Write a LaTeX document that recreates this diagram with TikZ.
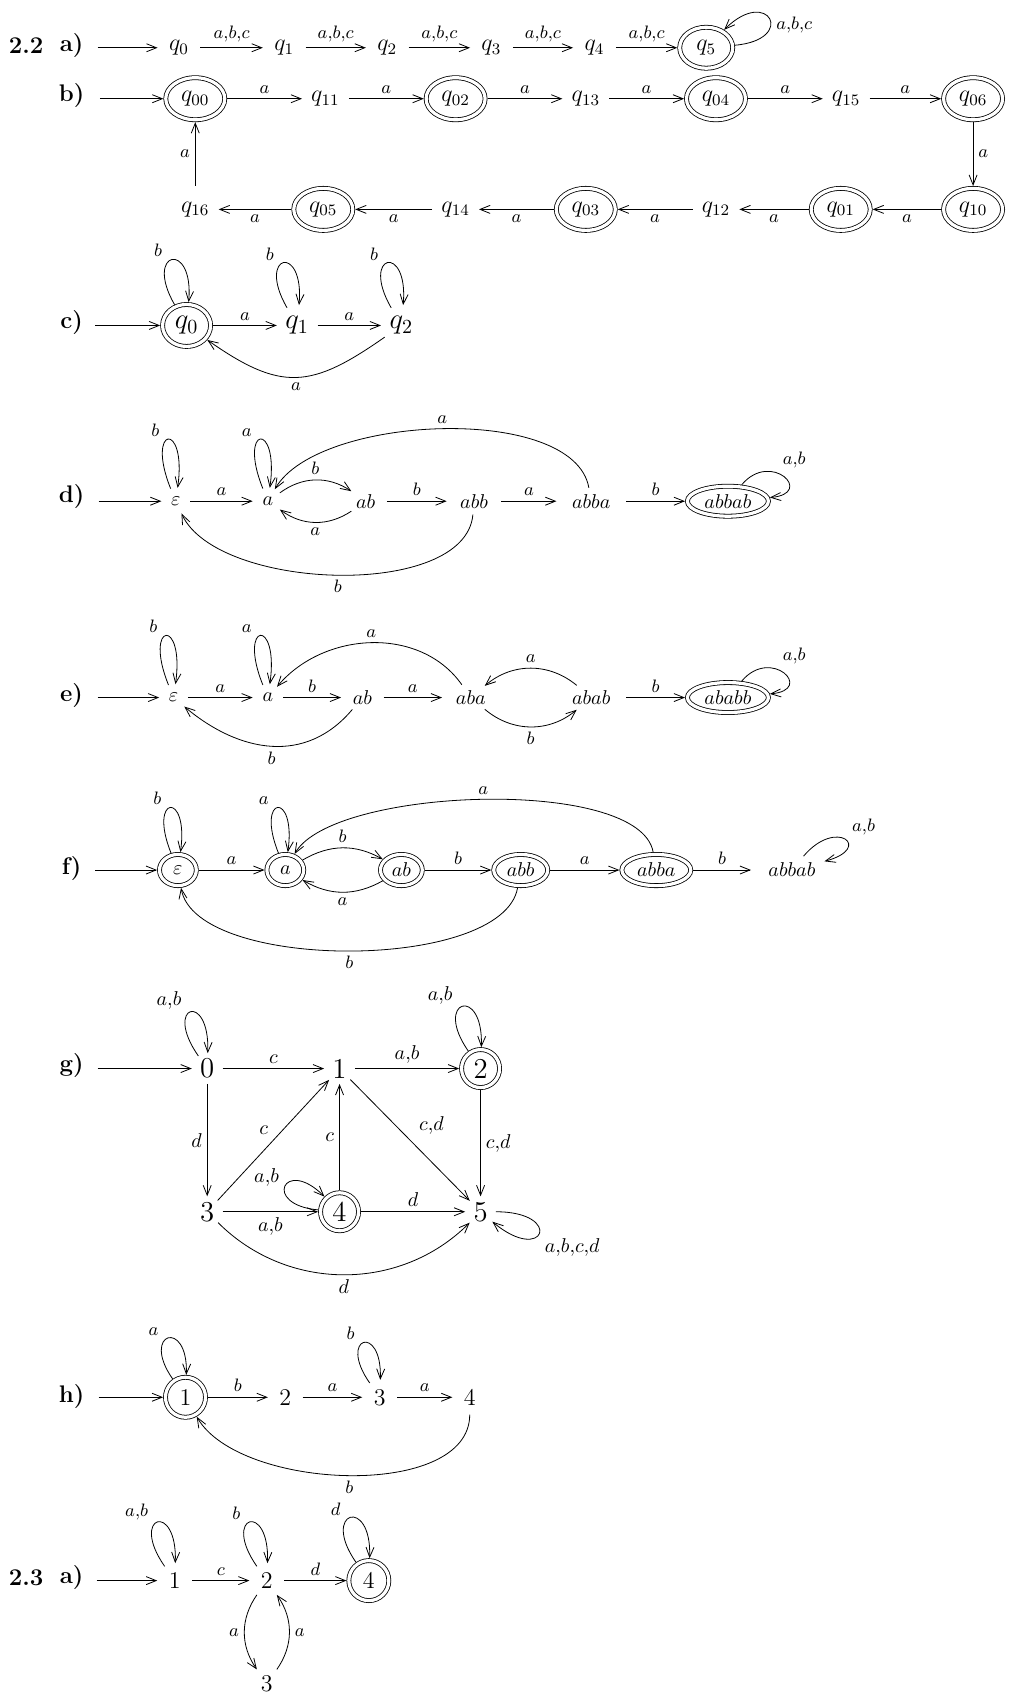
\documentclass[tikz,border=0pt]{standalone}
\usepackage{amsmath}
\usepackage{amssymb}
\usetikzlibrary{shapes,arrows.meta}

\tikzset{
	>={Straight Barb[length=5pt,width=4pt]},
	hd/.style={font=\large\bfseries},
	lab/.style={font=\small,inner sep=2.5pt},
	acc/.style={draw,double,double distance=1.6pt,outer sep=1.2pt},
}

\begin{document}
\begin{tikzpicture}[x=0.5423pt,y=0.5423pt]

	\useasboundingbox (0,0) rectangle (934,-1568);

	% 2.2 a)
	\def\rowy{-44}
	\begin{scope}[st/.style={circle,minimum size=21pt,inner sep=0pt,font=\large},
		ac/.style={ellipse,acc,minimum width=26.5pt,minimum height=20.5pt,inner sep=0pt,font=\large}]
	\node[hd] (h22) at (24,-42) {2.2};
	\node[hd] (ha) at (66,-42) {a)};
	\coordinate (ain) at (90,\rowy);
	\node[st] (a0) at (165,\rowy) {$q_0$};
	\node[st] (a1) at (262,\rowy) {$q_1$};
	\node[st] (a2) at (357,\rowy) {$q_2$};
	\node[st] (a3) at (453,\rowy) {$q_3$};
	\node[st] (a4) at (548,\rowy) {$q_4$};
	\node[ac] (a5) at (651,\rowy) {$q_5$};
	\path[->] (ain) edge (a0);
	\foreach \i/\j in {0/1,1/2,2/3,3/4,4/5}
		\path[->] (a\i) edge node[lab,above] {$a{,}b{,}c$} (a\j);
	\path[->] (a5) edge[out=5,in=45,min distance=11mm] node[lab,right,pos=0.4] {$a{,}b{,}c$} (a5);
	\end{scope}

	% b)
	\def\rowy{-91}
	\def\rowz{-193}
	\begin{scope}[st/.style={circle,minimum size=23pt,inner sep=0pt,font=\large},
		ac/.style={ellipse,acc,minimum width=29.5pt,minimum height=21pt,inner sep=0pt,font=\large}]
	\node[hd] (hb) at (66,-88) {b)};
	\coordinate (bin) at (92,\rowy);
	\node[ac] (b00) at (180,\rowy) {$q_{00}$};
	\node[st] (b11) at (300,\rowy) {$q_{11}$};
	\node[ac] (b02) at (420,\rowy) {$q_{02}$};
	\node[st] (b13) at (540,\rowy) {$q_{13}$};
	\node[ac] (b04) at (660,\rowy) {$q_{04}$};
	\node[st] (b15) at (780,\rowy) {$q_{15}$};
	\node[ac] (b06) at (897,\rowy) {$q_{06}$};
	\node[ac] (b10) at (897,\rowz) {$q_{10}$};
	\node[ac] (b01) at (775,\rowz) {$q_{01}$};
	\node[st] (b12) at (660,\rowz) {$q_{12}$};
	\node[ac] (b03) at (540,\rowz) {$q_{03}$};
	\node[st] (b14) at (420,\rowz) {$q_{14}$};
	\node[ac] (b05) at (298,\rowz) {$q_{05}$};
	\node[st] (b16) at (180,\rowz) {$q_{16}$};
	\path[->] (bin) edge (b00);
	\foreach \i/\j in {00/11,11/02,02/13,13/04,04/15,15/06}
		\path[->] (b\i) edge node[lab,above] {$a$} (b\j);
	\foreach \i/\j in {10/01,01/12,12/03,03/14,14/05,05/16}
		\path[->] (b\i) edge node[lab,below] {$a$} (b\j);
	\path[->] (b06) edge node[lab,right] {$a$} (b10);
	\path[->] (b16) edge node[lab,left] {$a$} (b00);
	\end{scope}

	% c)
	\def\rowy{-300}
	\begin{scope}[st/.style={circle,minimum size=20pt,inner sep=0pt,font=\Large},
		ac/.style={ellipse,acc,minimum width=24pt,minimum height=21pt,inner sep=0pt,font=\Large},
		selfl/.style={out=120,in=85,min distance=11mm}]
	\node[hd] (hc) at (66,-297) {c)};
	\coordinate (cin) at (88,\rowy);
	\node[ac] (c0) at (172,\rowy) {$q_0$};
	\node[st] (c1) at (274,\rowy) {$q_1$};
	\node[st] (c2) at (370,\rowy) {$q_2$};
	\path[->] (cin) edge (c0);
	\path[->] (c0) edge node[lab,above] {$a$} (c1);
	\path[->] (c1) edge node[lab,above] {$a$} (c2);
	\path[->] (c2) edge[out=215,in=-35,looseness=1.3] node[lab,below] {$a$} (c0);
	\foreach \n in {c0,c1,c2}
		\path[->] (\n) edge[selfl] node[lab,above left,pos=0.4] {$b$} (\n);
	\end{scope}

	% d)
	\def\rowy{-462}
	\begin{scope}[st/.style={ellipse,inner xsep=2.6pt,inner ysep=0pt,minimum height=13pt},
		ac/.style={st,acc,minimum height=15pt},
		selfl/.style={out=112,in=82,min distance=12mm}]
	\node[hd] (hd) at (66,-458) {d)};
	\coordinate (din) at (91,\rowy);
	\node[st] (d0) at (162,\rowy) {$\varepsilon$};
	\node[st] (d1) at (247,\rowy) {$a$};
	\node[st] (d2) at (337,\rowy) {$ab$};
	\node[st] (d3) at (437,\rowy) {$abb$};
	\node[st] (d4) at (545,\rowy) {$abba$};
	\node[ac] (d5) at (671,\rowy) {$abbab$};
	\path[->] (din) edge (d0);
	\path[->] (d0) edge node[lab,above] {$a$} (d1);
	\path[->] (d1) edge[bend left=35] node[lab,above] {$b$} (d2);
	\path[->] (d2) edge[bend left=35] node[lab,below] {$a$} (d1);
	\path[->] (d2) edge node[lab,above] {$b$} (d3);
	\path[->] (d3) edge node[lab,above] {$a$} (d4);
	\path[->] (d4) edge node[lab,above] {$b$} (d5);
	\path[->] (d4) edge[out=100,in=60,looseness=0.7] node[lab,above] {$a$} (d1);
	\path[->] (d3) edge[out=-95,in=-65,looseness=0.75] node[lab,below] {$b$} (d0);
	\path[->] (d0) edge[selfl] node[lab,above left,pos=0.4] {$b$} (d0);
	\path[->] (d1) edge[selfl] node[lab,above left,pos=0.4] {$a$} (d1);
	\path[->] (d5) edge[out=50,in=5,min distance=8mm] node[lab,above right,pos=0.4] {$a{,}b$} (d5);
	\end{scope}

	% e)
	\def\rowy{-643}
	\begin{scope}[st/.style={ellipse,inner xsep=2.6pt,inner ysep=0pt,minimum height=13pt},
		ac/.style={st,acc,minimum height=15pt},
		selfl/.style={out=112,in=82,min distance=12mm}]
	\node[hd] (he) at (66,-641) {e)};
	\coordinate (ein) at (90,\rowy);
	\node[st] (e0) at (160,\rowy) {$\varepsilon$};
	\node[st] (e1) at (247,\rowy) {$a$};
	\node[st] (e2) at (334,\rowy) {$ab$};
	\node[st] (e3) at (434,\rowy) {$aba$};
	\node[st] (e4) at (545,\rowy) {$abab$};
	\node[ac] (e5) at (671,\rowy) {$ababb$};
	\path[->] (ein) edge (e0);
	\path[->] (e0) edge node[lab,above] {$a$} (e1);
	\path[->] (e1) edge node[lab,above] {$b$} (e2);
	\path[->] (e2) edge node[lab,above] {$a$} (e3);
	\path[->] (e4) edge node[lab,above] {$b$} (e5);
	\path[->] (e3) edge[out=125,in=50] node[lab,above] {$a$} (e1);
	\path[->] (e4) edge[bend right=40] node[lab,above] {$a$} (e3);
	\path[->] (e3) edge[bend right=40] node[lab,below] {$b$} (e4);
	\path[->] (e2) edge[out=-130,in=-40,looseness=1.1] node[lab,below] {$b$} (e0);
	\path[->] (e0) edge[selfl] node[lab,above left,pos=0.4] {$b$} (e0);
	\path[->] (e1) edge[selfl] node[lab,above left,pos=0.4] {$a$} (e1);
	\path[->] (e5) edge[out=50,in=5,min distance=8mm] node[lab,above right,pos=0.4] {$a{,}b$} (e5);
	\end{scope}

	% f)
	\def\rowy{-802}
	\begin{scope}[st/.style={ellipse,inner xsep=2.6pt,inner ysep=0pt,minimum height=14pt},
		ac/.style={st,acc,minimum height=15.6pt,minimum width=18.4pt},
		selfl/.style={out=112,in=82,min distance=11mm}]
	\node[hd] (hf) at (66,-801) {f)};
	\coordinate (fin) at (88,\rowy);
	\node[ac] (f0) at (164,\rowy) {$\varepsilon$};
	\node[ac] (f1) at (263,\rowy) {$a$};
	\node[ac] (f2) at (370,\rowy) {$ab$};
	\node[ac] (f3) at (480,\rowy) {$abb$};
	\node[ac] (f4) at (605,\rowy) {$abba$};
	\node[st] (f5) at (730,\rowy) {$abbab$};
	\path[->] (fin) edge (f0);
	\path[->] (f0) edge node[lab,above] {$a$} (f1);
	\path[->] (f1) edge[bend left=30] node[lab,above] {$b$} (f2);
	\path[->] (f2) edge[bend left=30] node[lab,below] {$a$} (f1);
	\path[->] (f2) edge node[lab,above] {$b$} (f3);
	\path[->] (f3) edge node[lab,above] {$a$} (f4);
	\path[->] (f4) edge node[lab,above] {$b$} (f5);
	\path[->] (f4) edge[out=100,in=60,looseness=0.55] node[lab,above] {$a$} (f1);
	\path[->] (f3) edge[out=-100,in=-80,looseness=0.65] node[lab,below] {$b$} (f0);
	\path[->] (f0) edge[selfl] node[lab,above left,pos=0.4] {$b$} (f0);
	\path[->] (f1) edge[selfl] node[lab,above left,pos=0.4] {$a$} (f1);
	\path[->] (f5) edge[out=50,in=15,min distance=9mm] node[lab,above right,pos=0.55] {$a{,}b$} (f5);
	\end{scope}

	% g)
	\begin{scope}[st/.style={circle,minimum size=15pt,inner sep=0pt,font=\Large},
		ac/.style={st,acc,minimum size=19pt},
		lab/.append style={font=\normalsize},
		selfl/.style={out=125,in=88,min distance=11mm}]
	\node[hd] (hg) at (66,-982) {g)};
	\coordinate (gin) at (90,-985);
	\node[st] (g0) at (191,-985) {0};
	\node[st] (g1) at (313,-985) {1};
	\node[ac] (g2) at (443,-985) {2};
	\node[st] (g3) at (191,-1117) {3};
	\node[ac] (g4) at (313,-1117) {4};
	\node[st] (g5) at (443,-1117) {5};
	\path[->] (gin) edge (g0);
	\path[->] (g0) edge node[lab,above] {$c$} (g1);
	\path[->] (g1) edge node[lab,above] {$a{,}b$} (g2);
	\path[->] (g0) edge node[lab,left] {$d$} (g3);
	\path[->] (g3) edge node[lab,above left] {$c$} (g1);
	\path[->] (g4) edge node[lab,left] {$c$} (g1);
	\path[->] (g1) edge node[lab,pos=0.38,right=9pt] {$c{,}d$} (g5);
	\path[->] (g2) edge node[lab,right] {$c{,}d$} (g5);
	\path[->] (g3) edge node[lab,below] {$a{,}b$} (g4);
	\path[->] (g4) edge node[lab,above] {$d$} (g5);
	\path[->] (g3) edge[out=-45,in=-135] node[lab,below] {$d$} (g5);
	\path[->] (g0) edge[selfl] node[lab,above left,pos=0.4] {$a{,}b$} (g0);
	\path[->] (g2) edge[selfl] node[lab,above left,pos=0.4] {$a{,}b$} (g2);
	\path[->] (g4) edge[out=175,in=135,min distance=10mm] node[lab,above left,pos=0.4] {$a{,}b$} (g4);
	\path[->] (g5) edge[out=0,in=-40,min distance=12mm] node[lab,below right,pos=0.5] {$a{,}b{,}c{,}d$} (g5);
	\end{scope}

	% h)
	\def\rowy{-1288}
	\begin{scope}[st/.style={circle,minimum size=17pt,inner sep=0pt,font=\large},
		ac/.style={st,acc,minimum size=20pt},
		selfl/.style={out=125,in=88,min distance=10mm}]
	\node[hd] (hh) at (66,-1287) {h)};
	\coordinate (hin) at (91,\rowy);
	\node[ac] (h1) at (171,\rowy) {1};
	\node[st] (h2) at (263,\rowy) {2};
	\node[st] (h3) at (350,\rowy) {3};
	\node[st] (h4) at (433,\rowy) {4};
	\path[->] (hin) edge (h1);
	\path[->] (h1) edge node[lab,above] {$b$} (h2);
	\path[->] (h2) edge node[lab,above] {$a$} (h3);
	\path[->] (h3) edge node[lab,above] {$a$} (h4);
	\path[->] (h4) edge[out=-90,in=-60,looseness=0.8] node[lab,below] {$b$} (h1);
	\path[->] (h1) edge[selfl] node[lab,above left,pos=0.4] {$a$} (h1);
	\path[->] (h3) edge[selfl] node[lab,above left,pos=0.4] {$b$} (h3);
	\end{scope}

	% 2.3 a)
	\def\rowy{-1457}
	\begin{scope}[st/.style={circle,minimum size=17pt,inner sep=0pt,font=\large},
		ac/.style={st,acc,minimum size=20pt},
		selfl/.style={out=125,in=88,min distance=11mm}]
	\node[hd] (h23) at (24,-1454) {2.3};
	\node[hd] (hpa) at (66,-1454) {a)};
	\coordinate (pin) at (89,\rowy);
	\node[st] (p1) at (161,\rowy) {1};
	\node[st] (p2) at (246,\rowy) {2};
	\node[ac] (p4) at (340,\rowy) {4};
	\node[st] (p3) at (246,-1552) {3};
	\path[->] (pin) edge (p1);
	\path[->] (p1) edge node[lab,above] {$c$} (p2);
	\path[->] (p2) edge node[lab,above] {$d$} (p4);
	\path[->] (p2) edge[bend right=35] node[lab,left] {$a$} (p3);
	\path[->] (p3) edge[bend right=35] node[lab,right] {$a$} (p2);
	\path[->] (p1) edge[selfl] node[lab,above left,pos=0.4] {$a{,}b$} (p1);
	\path[->] (p2) edge[selfl] node[lab,above left,pos=0.4] {$b$} (p2);
	\path[->] (p4) edge[selfl] node[lab,above left,pos=0.4] {$d$} (p4);
	\end{scope}

\end{tikzpicture}
\end{document}
